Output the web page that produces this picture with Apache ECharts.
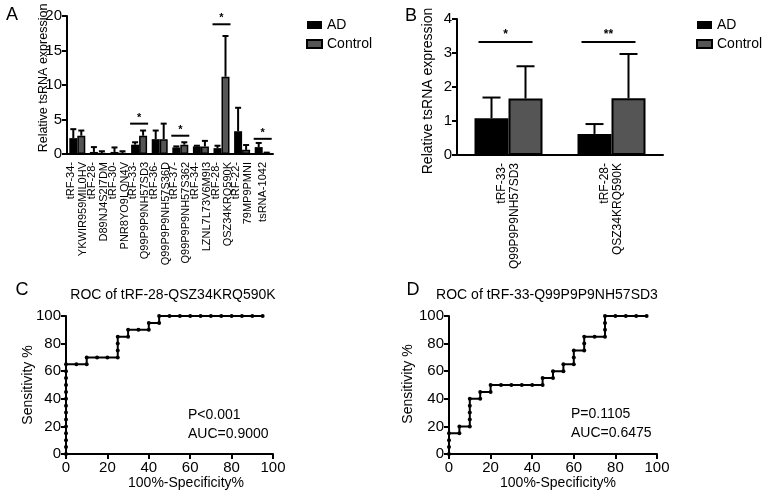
<!DOCTYPE html>
<html><head><meta charset="utf-8">
<script src="https://cdn.jsdelivr.net/npm/echarts@6/dist/echarts.min.js"></script>
<style>html,body{margin:0;padding:0;background:#fff}#c{width:765px;height:497px}</style>
</head><body><div id="c"></div>
<script>
// ---------- Data ----------
const catsA = ['tRF-34-\nYKWIR959MIL0HV','tRF-28-\nD89NJ4S2I7DM','tRF-30-\nPNR8YO9LON4V','tRF-33-\nQ99P9P9NH57SD3','tRF-36-\nQ99P9P9NH57S36D','tRF-37-\nQ99P9P9NH57S362','tRF-34-\nLZNL7L73V6M9I3','tRF-28-\nQSZ34KRQ590K','tRF-22-\n79MP9PMNI','tsRNA-1042'];
const adA      = [2.3, 0.3, 0.3, 1.35, 2.15, 0.95, 1.1, 0.85, 3.3, 1.0];
const adErrA   = [3.6, 1.0, 0.95, 1.7, 3.4, 1.1, 1.2, 1.2, 6.7, 1.6];
const ctrlA    = [2.65, 0.15, 0.15, 2.65, 2.15, 1.35, 1.1, 11.2, 0.6, 0.15];
const ctrlErrA = [3.4, 0.4, 0.4, 3.4, 4.4, 1.7, 1.9, 17.1, 1.3, 0.2];
const sigA     = [[3, 4.4, '*'], [5, 2.65, '*'], [7, 18.8, '*'], [9, 2.2, '*']];

const catsB    = ['tRF-33-\nQ99P9P9NH57SD3', 'tRF-28-\nQSZ34KRQ590K'];
const adB      = [1.08, 0.62];
const adErrB   = [1.69, 0.91];
const ctrlB    = [1.66, 1.67];
const ctrlErrB = [2.61, 2.97];
const sigB     = [[0, 3.32, '*'], [1, 3.32, '**']];

const rocC = [[0,0],[0,5],[0,10],[0,15],[0,20],[0,25],[0,30],[0,35],[0,40],[0,45],[0,50],[0,55],[0,60],[0,65],
  [5,65],[10,65],[10,70],[15,70],[20,70],[25,70],[25,75],[25,80],[25,85],[30,85],[30,90],[35,90],[40,90],[40,95],
  [45,95],[45,100],[50,100],[55,100],[60,100],[65,100],[70,100],[75,100],[80,100],[85,100],[90,100],[95,100]];
const rocD = [[0,0],[0,5],[0,10],[0,15],[5,15],[5,20],[10,20],[10,25],[10,30],[10,35],[10,40],[15,40],[15,45],
  [20,45],[20,50],[25,50],[30,50],[35,50],[40,50],[45,50],[45,55],[50,55],[50,60],[55,60],[55,65],[60,65],[60,70],
  [60,75],[65,75],[65,80],[65,85],[70,85],[75,85],[75,90],[75,95],[75,100],[80,100],[85,100],[90,100],[95,100]];
const statsC = ['P<0.001', 'AUC=0.9000'];
const statsD = ['P=0.1105', 'AUC=0.6475'];
const titleC = 'ROC of tRF-28-QSZ34KRQ590K';
const titleD = 'ROC of tRF-33-Q99P9P9NH57SD3';

// ---------- Chart ----------
const FONT = '"Liberation Sans", Arial, Helvetica, sans-serif';
const axLine = {lineStyle:{color:'#000', width:2}};
const axTick = {length:5, lineStyle:{color:'#000', width:2}};

function errSeries(xi, vals, errs, offset, capHalf) {
  return {
    type:'custom', xAxisIndex:xi, yAxisIndex:xi, z:5, silent:true,
    data: vals.map((v,i)=>[i, v, errs[i]]),
    renderItem:(params, api)=>{
      const b = api.coord([api.value(0), api.value(1)]);
      const t = api.coord([api.value(0), api.value(2)]);
      const x = b[0] + offset;
      return {type:'group', children:[
        {type:'line', shape:{x1:x, y1:b[1], x2:x, y2:t[1]}, style:{stroke:'#000', lineWidth:2}},
        {type:'line', shape:{x1:x-capHalf, y1:t[1], x2:x+capHalf, y2:t[1]}, style:{stroke:'#000', lineWidth:2}}
      ]};
    }
  };
}
function sigSeries(xi, sig, left, right, starGap, fs) {
  return {
    type:'custom', xAxisIndex:xi, yAxisIndex:xi, z:5, silent:true,
    data: sig.map(s=>[s[0], s[1]]),
    renderItem:(params, api)=>{
      const p = api.coord([api.value(0), api.value(1)]);
      const mid = p[0] + (right - left)/2;
      return {type:'group', children:[
        {type:'line', shape:{x1:p[0]-left, y1:p[1], x2:p[0]+right, y2:p[1]}, style:{stroke:'#000', lineWidth:2}},
        {type:'text', style:{text:sig[params.dataIndex][2], x:mid, y:p[1]-starGap, align:'center', verticalAlign:'middle', fill:'#000', fontSize:fs, fontFamily:FONT, fontWeight:'bold'}}
      ]};
    }
  };
}

const catAxis = (gi, data, fs, pad) => ({
  gridIndex:gi, type:'category', data:data,
  axisLine:axLine, axisTick:Object.assign({alignWithLabel:true}, axTick),
  axisLabel:{rotate:90, interval:0, fontSize:fs, color:'#000', fontFamily:FONT, margin:8, lineHeight:fs+1, padding:pad}
});
const valAxis = (gi, min, max, interval, extra) => Object.assign({
  gridIndex:gi, type:'value', min:min, max:max, interval:interval,
  axisLine:Object.assign({show:true}, axLine), axisTick:Object.assign({show:true}, axTick),
  splitLine:{show:false},
  axisLabel:{fontSize:15, color:'#000', fontFamily:FONT, margin:5}
}, extra || {});

const txt = (text, x, y, fs) => ({
  type:'text', x:x, y:y, silent:true,
  style:{text:text, fontSize:fs, fontFamily:FONT, fill:'#000', align:'center', verticalAlign:'middle'}
});
const rtxt = (text, x, y, fs) => ({
  type:'text', x:x, y:y, rotation:Math.PI/2, silent:true,
  style:{text:text, fontSize:fs, fontFamily:FONT, fill:'#000', align:'center', verticalAlign:'middle'}
});
const ltxt = (text, x, y, fs) => ({
  type:'text', x:x, y:y, silent:true,
  style:{text:text, fontSize:fs, fontFamily:FONT, fill:'#000', align:'left', verticalAlign:'middle'}
});

const rocSeries = (idx, data) => ({
  type:'line', xAxisIndex:idx, yAxisIndex:idx, data:data, symbol:'circle', symbolSize:4,
  lineStyle:{color:'#000', width:2}, itemStyle:{color:'#000'}, animation:false, silent:true
});

const legendBase = {
  orient:'vertical', icon:'rect', itemWidth:15, itemHeight:8, itemGap:5, padding:0,
  data:['AD','Control'], textStyle:{fontSize:14, color:'#000', fontFamily:FONT}, selectedMode:false
};

const option = {
  animation:false,
  textStyle:{fontFamily:FONT},
  grid:[
    {left:67, top:16, width:206, height:138},
    {left:457, top:19, width:206, height:136},
    {left:66, top:316, width:207, height:138},
    {left:449, top:316, width:208, height:138}
  ],
  xAxis:[
    catAxis(0, catsA, 11, 0),
    catAxis(1, catsB, 12, [8,0,0,0]),
    valAxis(2, 0, 100, 20, {axisLabel:{fontSize:15, color:'#000', fontFamily:FONT, margin:6}}),
    valAxis(3, 0, 100, 20, {axisLabel:{fontSize:15, color:'#000', fontFamily:FONT, margin:6}})
  ],
  yAxis:[
    valAxis(0, 0, 20, 5),
    valAxis(1, 0, 4, 1),
    valAxis(2, 0, 100, 20),
    valAxis(3, 0, 100, 20)
  ],
  legend:[
    Object.assign({left:306, top:18}, legendBase),
    Object.assign({left:696, top:18}, legendBase)
  ],
  series:[
    {name:'AD', type:'bar', xAxisIndex:0, yAxisIndex:0, data:adA, barWidth:8, barGap:'0%', itemStyle:{color:'#000'}},
    {name:'Control', type:'bar', xAxisIndex:0, yAxisIndex:0, data:ctrlA, barWidth:8, barGap:'0%', itemStyle:{color:'#555', borderColor:'#000', borderWidth:1.5}},
    errSeries(0, adA, adErrA, -4, 3),
    errSeries(0, ctrlA, ctrlErrA, 4, 3),
    sigSeries(0, sigA, 9, 9, 6, 11),
    {name:'AD', type:'bar', xAxisIndex:1, yAxisIndex:1, data:adB, barWidth:34, barGap:'0%', itemStyle:{color:'#000', borderColor:'#000', borderWidth:2}},
    {name:'Control', type:'bar', xAxisIndex:1, yAxisIndex:1, data:ctrlB, barWidth:34, barGap:'0%', itemStyle:{color:'#555', borderColor:'#000', borderWidth:2}},
    errSeries(1, adB, adErrB, -17, 9),
    errSeries(1, ctrlB, ctrlErrB, 17, 9),
    sigSeries(1, sigB, 30, 24, 7, 12),
    rocSeries(2, rocC),
    rocSeries(3, rocD)
  ],
  graphic:[
    txt('A', 12, 15, 18), txt('B', 411, 16, 18), txt('C', 22, 290, 18), txt('D', 413, 290, 18),
    rtxt('Relative tsRNA expression', 44, 78, 12.5),
    rtxt('Relative tsRNA expression', 428, 91, 14),
    txt(titleC, 173, 295, 14), txt(titleD, 547, 295, 14),
    rtxt('Sensitivity %', 28, 385, 14), rtxt('Sensitivity %', 408, 384, 14),
    txt('100%-Specificity%', 186, 483, 14), txt('100%-Specificity%', 558, 483, 14),
    ltxt(statsC[0], 188, 415, 14), ltxt(statsC[1], 188, 434, 14),
    ltxt(statsD[0], 571, 414, 14), ltxt(statsD[1], 571, 433, 14)
  ]
};
const chart = echarts.init(document.getElementById('c'), null, {renderer:'canvas'});
chart.setOption(option);
</script></body></html>
